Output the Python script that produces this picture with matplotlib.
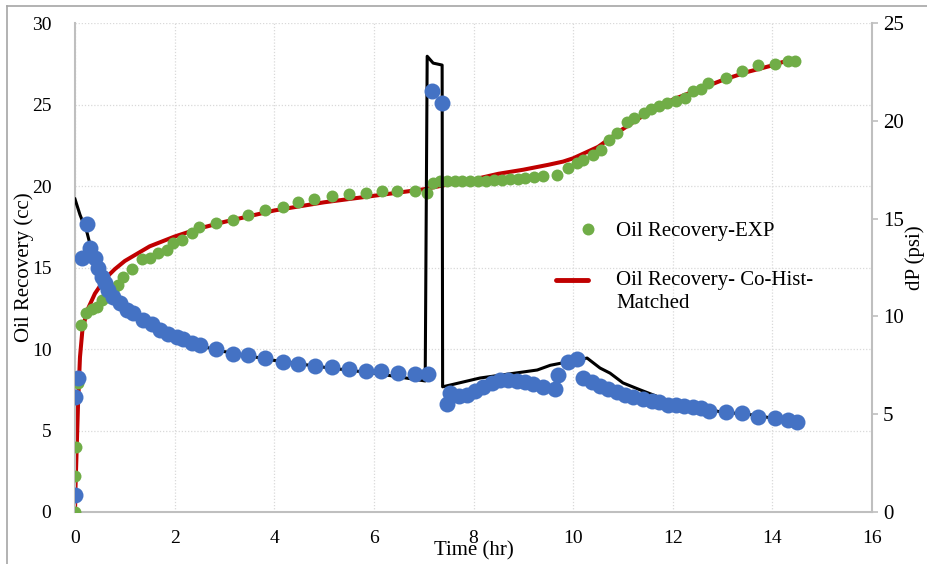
import matplotlib
matplotlib.use("Agg")
import matplotlib.pyplot as plt
from matplotlib.lines import Line2D
from matplotlib.legend_handler import HandlerLine2D

plt.rcParams['font.family'] = ['Liberation Serif', 'DejaVu Serif']

# oil recovery, experiment (cc)
t_oil = [0.0, 0.0, 0.02, 0.06, 0.12, 0.22, 0.34, 0.44, 0.54, 0.64, 0.76, 0.86, 0.96,
         1.14, 1.35, 1.51, 1.67, 1.85, 1.97, 2.15, 2.35, 2.49, 2.83, 3.17, 3.47, 3.82,
         4.18, 4.48, 4.80, 5.16, 5.50, 5.84, 6.16, 6.47, 6.83, 7.07, 7.19,
         7.33, 7.47, 7.63, 7.77, 7.93, 8.09, 8.25, 8.41, 8.57, 8.73, 8.90, 9.04, 9.22, 9.40,
         9.68, 9.90, 10.08, 10.20, 10.40, 10.56, 10.72, 10.88, 11.08, 11.22, 11.43, 11.57,
         11.73, 11.89, 12.07, 12.25, 12.41, 12.57, 12.71, 13.07, 13.39, 13.71, 14.06,
         14.32, 14.46]
oil_exp = [0.0, 2.2, 4.0, 7.9, 11.5, 12.2, 12.45, 12.6, 13.0, 13.2, 13.55, 13.9, 14.4,
           14.9, 15.5, 15.6, 15.9, 16.1, 16.5, 16.7, 17.1, 17.5, 17.7, 17.9, 18.2, 18.5,
           18.7, 19.0, 19.2, 19.4, 19.5, 19.6, 19.7, 19.7, 19.7, 19.6, 20.2,
           20.3, 20.3, 20.3, 20.3, 20.3, 20.3, 20.3, 20.35, 20.35, 20.4, 20.45, 20.5, 20.55, 20.6,
           20.7, 21.1, 21.4, 21.6, 21.9, 22.2, 22.8, 23.25, 23.9, 24.2, 24.5, 24.7,
           24.9, 25.1, 25.2, 25.4, 25.8, 25.95, 26.3, 26.6, 27.05, 27.4, 27.5,
           27.7, 27.7]

# oil recovery, history match (cc)
t_oil_fit = [0.0, 0.01, 0.03, 0.06, 0.1, 0.15, 0.25, 0.4, 0.6, 0.8, 1.0, 1.5, 2.0, 2.5,
             3.0, 4.0, 5.0, 6.0, 7.0, 7.5, 8.0, 8.5, 9.0, 9.5, 9.8, 10.0, 10.5, 11.0,
             11.5, 12.0, 12.5, 13.0, 13.5, 14.0, 14.2]
oil_fit = [0.0, 1.5, 3.5, 6.5, 9.5, 11.2, 12.4, 13.4, 14.3, 14.9, 15.4, 16.3, 16.9, 17.4,
           17.8, 18.5, 19.0, 19.4, 19.8, 20.1, 20.4, 20.75, 21.0, 21.3, 21.5, 21.7, 22.4,
           23.5, 24.5, 25.3, 25.9, 26.5, 27.0, 27.4, 27.6]

# pressure drop, experiment (psi)
t_dp = [0.0, 0.0, 0.06, 0.14, 0.24, 0.30, 0.40, 0.46, 0.54, 0.60, 0.66, 0.76, 0.90,
        1.04, 1.16, 1.37, 1.55, 1.70, 1.87, 2.05, 2.17, 2.35, 2.51, 2.83, 3.17, 3.47,
        3.82, 4.18, 4.48, 4.82, 5.16, 5.50, 5.84, 6.14, 6.49, 6.83, 7.09,
        7.17, 7.37,
        7.47, 7.53, 7.70, 7.87, 8.03, 8.20, 8.37, 8.53, 8.70, 8.87, 9.04, 9.20, 9.40,
        9.64, 9.70, 9.90, 10.08, 10.20, 10.38, 10.54, 10.70, 10.88, 11.04, 11.20,
        11.41, 11.58, 11.73, 11.90, 12.07, 12.23, 12.40, 12.57, 12.73, 13.07, 13.39,
        13.71, 14.06, 14.32, 14.50]
dp_exp = [0.87, 5.9, 6.85, 13.0, 14.7, 13.5, 13.0, 12.5, 12.0, 11.7, 11.35, 11.0, 10.7,
          10.35, 10.17, 9.82, 9.6, 9.3, 9.1, 8.95, 8.84, 8.64, 8.54, 8.33, 8.08, 8.03,
          7.87, 7.67, 7.57, 7.46, 7.41, 7.31, 7.2, 7.2, 7.1, 7.06, 7.06,
          21.5, 20.9,
          5.5, 6.1, 5.93, 6.0, 6.2, 6.4, 6.6, 6.75, 6.75, 6.7, 6.65, 6.55, 6.4,
          6.3, 7.0, 7.67, 7.8, 6.85, 6.65, 6.45, 6.27, 6.12, 6.0, 5.9,
          5.8, 5.7, 5.6, 5.47, 5.47, 5.42, 5.37, 5.3, 5.16, 5.1, 5.06,
          4.86, 4.8, 4.7, 4.6]

# pressure drop, history match (psi)
t_dp_fit = [0.0, 0.1, 0.24, 0.35, 0.5, 0.7, 1.0, 1.5, 2.0, 2.5, 3.0, 4.0, 5.0, 6.0,
            7.03, 7.07, 7.19, 7.37, 7.38, 8.13, 9.0, 9.28, 9.54, 9.74, 10.28, 10.54,
            10.74, 11.0, 11.35, 12.0, 12.5, 13.0, 13.5, 14.0, 14.3]
dp_fit = [16.0, 15.2, 14.3, 13.2, 12.2, 11.3, 10.4, 9.6, 8.95, 8.5, 8.2, 7.75, 7.4, 7.1,
          6.7, 23.3, 22.95, 22.85, 6.4, 6.85, 7.16, 7.26, 7.5, 7.6, 7.87, 7.36,
          7.1, 6.6, 6.24, 5.6, 5.35, 5.1, 5.0, 4.8, 4.7]

GREEN = '#70AD47'
BLUE = '#4472C4'
RED = '#C00000'
GRAY = '#BFBFBF'


class EndMarkerHandler(HandlerLine2D):
    # legend marker sits at the right end of the handle
    def create_artists(self, legend, orig_handle, xdescent, ydescent,
                       width, height, fontsize, trans):
        arts = super().create_artists(legend, orig_handle, xdescent, ydescent,
                                      width, height, fontsize, trans)
        for a in arts:
            a.set_xdata([width - xdescent] * len(a.get_xdata()))
        return arts


class FirstLineHandler(HandlerLine2D):
    # line handle level with the first line of a two-line label
    def create_artists(self, legend, orig_handle, xdescent, ydescent,
                       width, height, fontsize, trans):
        arts = super().create_artists(legend, orig_handle, xdescent, ydescent,
                                      width, height, fontsize, trans)
        for a in arts:
            a.set_ydata([y + 0.58 * fontsize for y in a.get_ydata()])
        return arts


fig = plt.figure(figsize=(9.27, 5.64), dpi=100)
ax = fig.add_axes([0.0809, 0.0922, 0.8598, 0.867])
ax2 = ax.twinx()

ax.plot(t_oil_fit, oil_fit, color=RED, lw=2.9, zorder=2)
ax.plot(t_oil, oil_exp, 'o', color=GREEN, ms=8.6, mew=0, zorder=3)
ax2.plot(t_dp_fit, dp_fit, color='black', lw=2.2, zorder=2)
ax2.plot(t_dp, dp_exp, 'o', color=BLUE, ms=11.5, mew=0, zorder=3)

ax.set_xlim(0, 16)
ax.set_ylim(0, 30)
ax2.set_ylim(0, 25)
ax.set_xticks(range(0, 17, 2))
ax.set_yticks(range(0, 31, 5))
ax2.set_yticks(range(0, 26, 5))

ax.grid(True, color='#D9D9D9', ls=(0, (1, 1.5)), lw=0.9)
ax.set_axisbelow(True)

for a in (ax, ax2):
    a.spines['top'].set_visible(False)
    for s in ('left', 'bottom', 'right'):
        a.spines[s].set_color(GRAY)
        a.spines[s].set_linewidth(1.5)
ax.spines['right'].set_visible(False)
ax2.spines['left'].set_visible(False)
ax2.spines['bottom'].set_visible(False)

ax.tick_params(axis='both', length=0, labelsize=14)
ax.tick_params(axis='x', pad=13)
ax.tick_params(axis='y', pad=17)
ax2.tick_params(axis='y', length=4, width=1.2, color=GRAY, labelsize=15, pad=4)

ax.set_xlabel('Time (hr)', fontsize=15)
ax.xaxis.set_label_coords(0.5, -0.06)
ax.set_ylabel('Oil Recovery (cc)', fontsize=15)
ax.yaxis.set_label_coords(-0.052, 0.5)
ax2.set_ylabel('dP (psi)', fontsize=15)
ax2.yaxis.set_label_coords(1.042, 0.52)

handles = [Line2D([], [], ls='none', marker='o', color=GREEN, ms=8.6, mew=0),
           Line2D([], [], color=RED, lw=3.5, solid_capstyle='round')]
labels = ['Oil Recovery-EXP', 'Oil Recovery- Co-Hist-\nMatched']
leg = ax.legend(handles, labels, loc='upper left', bbox_to_anchor=(0.58, 0.633),
                frameon=False, fontsize=15, handlelength=1.55, handletextpad=1.35,
                labelspacing=1.45, numpoints=1,
                handler_map={handles[0]: EndMarkerHandler(),
                             handles[1]: FirstLineHandler()})
for t in leg.get_texts():
    t.set_linespacing(1.3)

# chart area border
fig.add_artist(Line2D([7 / 927, 7 / 927], [0, 1 - 6 / 564], color='#A6A6A6', lw=1.2))
fig.add_artist(Line2D([7 / 927, 1], [1 - 6 / 564, 1 - 6 / 564], color='#A6A6A6', lw=1.2))

fig.savefig('out.png', dpi=100)
